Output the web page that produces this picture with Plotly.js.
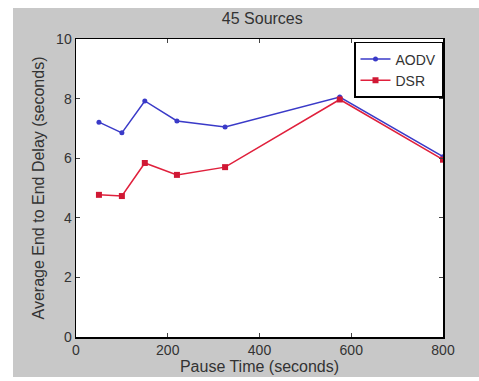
<!DOCTYPE html>
<html><head><meta charset="utf-8">
<script src="https://cdn.plot.ly/plotly-3.0.1.min.js"></script>
<style>
html,body{margin:0;padding:0;background:#ffffff;}
#chart{position:absolute;left:13px;top:8px;width:466px;height:369px;}
</style></head>
<body><div id="chart"></div>
<script>
const pauseTimes = [50, 100, 150, 220, 325, 575, 800];
const aodvDelay = [7.21, 6.85, 7.92, 7.25, 7.05, 8.05, 6.05];
const dsrDelay  = [4.77, 4.73, 5.84, 5.44, 5.70, 7.97, 5.95];
const xTicks = [0, 200, 400, 600, 800];
const yTicks = [0, 2, 4, 6, 8, 10];

const traces = [
  {x: pauseTimes, y: aodvDelay, name: 'AODV', mode: 'lines+markers',
   line: {color: '#3a3ac8', width: 1.5}, marker: {symbol: 'circle', size: 5, color: '#3a3ac8'}},
  {x: pauseTimes, y: dsrDelay, name: 'DSR', mode: 'lines+markers',
   line: {color: '#e0203c', width: 1.5}, marker: {symbol: 'square', size: 6, color: '#d01834'}}
];

const fam = 'Liberation Sans, Arial, sans-serif';
const tickFont = {family: fam, size: 14, color: '#333'};
const titleFont = {family: fam, size: 16, color: '#333'};
const layout = {
  width: 466, height: 369,
  margin: {l: 63, r: 36, t: 31, b: 40},
  paper_bgcolor: '#c8c8c8', plot_bgcolor: '#ffffff',
  font: tickFont,
  title: {text: '45 Sources', font: {family: fam, size: 16, color: '#333'}, x: 0.535, xanchor: 'center', y: 0.973, yanchor: 'middle'},
  showlegend: true,
  legend: {x: 1, xanchor: 'right', y: 0.99, yanchor: 'top', bgcolor: '#ffffff', bordercolor: '#000', borderwidth: 1.5,
           font: {family: fam, size: 14, color: '#333'}, itemwidth: 30, tracegroupgap: 0},
  xaxis: {range: [0, 800], tickvals: xTicks, ticktext: xTicks.map(String), ticks: 'inside', ticklen: 4,
          showline: true, linecolor: '#000', linewidth: 1.5, mirror: 'ticks', showgrid: false, zeroline: false,
          automargin: false,
          tickfont: tickFont, title: {text: 'Pause Time (seconds)', font: titleFont, standoff: 1}},
  yaxis: {range: [0, 10], tickvals: yTicks, ticktext: yTicks.map(String), ticks: 'inside', ticklen: 4,
          showline: true, linecolor: '#000', linewidth: 1.5, mirror: 'ticks', showgrid: false, zeroline: false,
          automargin: false,
          tickfont: tickFont, title: {text: 'Average End to End Delay (seconds)', font: titleFont, standoff: 7}}
};
Plotly.newPlot('chart', traces, layout, {displayModeBar: false, staticPlot: true});
</script></body></html>
